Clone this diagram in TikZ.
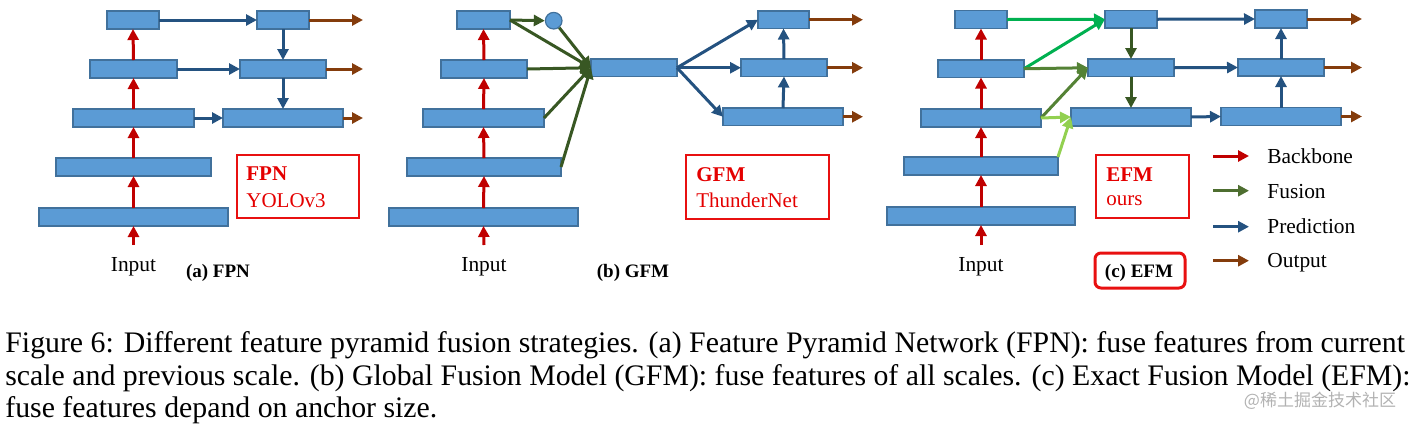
\documentclass[tikz,border=0pt]{standalone}
\usepackage{fontspec}
\setmainfont{Liberation Serif}
\newfontfamily\cjk{Noto Sans CJK SC}
\usetikzlibrary{arrows.meta}
\definecolor{boxfill}{RGB}{91,155,213}
\definecolor{boxline}{RGB}{65,113,156}
\definecolor{cbb}{RGB}{192,0,0}
\definecolor{cpred}{RGB}{36,82,128}
\definecolor{cout}{RGB}{132,60,12}
\definecolor{cfus}{RGB}{56,87,35}
\definecolor{cfusleg}{RGB}{78,110,48}
\definecolor{cmid}{RGB}{84,130,53}
\definecolor{cbright}{RGB}{0,176,80}
\definecolor{clight}{RGB}{146,208,80}
\definecolor{cred}{RGB}{232,16,16}
\definecolor{ctxt}{RGB}{228,0,0}
\newcommand\featbox[5]{\node[featb, minimum width={(#4-#2)*0.5pt}, minimum height={(#5-#3)*0.5pt}] (#1) at ({(#2+#4)/2},{(#3+#5)/2}) {};}
\newcommand\redframe[5]{\node[redb, minimum width={(#4-#2)*0.5pt}, minimum height={(#5-#3)*0.5pt}] (#1) at ({(#2+#4)/2},{(#3+#5)/2}) {};}
\begin{document}
\begin{tikzpicture}[x=0.5pt,y=-0.5pt,
  featb/.style={rectangle, draw=boxline, fill=boxfill, line width=0.6pt, inner sep=0pt, outer sep=0pt},
  redb/.style={rectangle, draw=cred, line width=1.3pt, inner sep=0pt, outer sep=0pt},
  arr/.style={line width=1.5pt, -{Triangle[length=5.5pt,width=5.5pt]}},
  bbarr/.style={arr, draw=cbb, fill=cbb},
  predarr/.style={arr, draw=cpred, fill=cpred},
  outarr/.style={arr, draw=cout, fill=cout},
  fusarr/.style={arr, draw=cfus, fill=cfus},
  midarr/.style={arr, draw=cmid, fill=cmid},
  brightarr/.style={arr, draw=cbright, fill=cbright},
  lightarr/.style={arr, draw=clight, fill=clight},
  lbl/.style={inner sep=0pt, font=\fontsize{10.7}{12}\selectfont},
  sublbl/.style={inner sep=0pt, font=\fontsize{9.5}{11}\selectfont\bfseries},
  boxttl/.style={inner sep=0pt, text=ctxt, font=\fontsize{10.5}{12}\selectfont\bfseries},
  boxsub/.style={inner sep=0pt, text=ctxt, font=\fontsize{10.5}{12}\selectfont},
  captxt/.style={inner sep=0pt, anchor=base west, font=\fontsize{14.9}{16.5}\selectfont}
]
\useasboundingbox (0,0) rectangle (1415,424);

% ---------------- (a) FPN ----------------
\featbox{a1}{107}{11}{159}{29}
\featbox{a2}{90}{60}{177}{78}
\featbox{a3}{73}{109}{194}{127}
\featbox{a4}{56}{158}{211}{176}
\featbox{a5}{39}{208}{228}{226}
\featbox{ap1}{257}{11}{309}{29}
\featbox{ap2}{240}{60}{326}{78}
\featbox{ap3}{223}{109}{343}{127}
\coordinate (ain) at (133.5,245);
\coordinate (aout) at (363,0);
\draw[bbarr] (ain) -- (a5.south);
\draw[bbarr] (a5.north) -- (a4.south);
\draw[bbarr] (a4.north) -- (a3.south);
\draw[bbarr] (a3.north) -- (a2.south);
\draw[bbarr] (a2.north) -- (a1.south);
\draw[predarr] (a1.east) -- (ap1.west);
\draw[predarr] (a2.east) -- (ap2.west);
\draw[predarr] (a3.east) -- (ap3.west);
\draw[predarr] (ap1.south) -- (ap2.north);
\draw[predarr] (ap2.south) -- (ap3.north);
\draw[outarr] (ap1.east) -- (ap1.east -| aout);
\draw[outarr] (ap2.east) -- (ap2.east -| aout);
\draw[outarr] (ap3.east) -- (ap3.east -| aout);
\node[lbl, anchor=base] (ainput) at (133.5,271) {Input};
\node[sublbl, anchor=base] (asub) at (218,277) {(a) FPN};
\redframe{afr}{237}{155}{359}{218}
\node[boxttl, anchor=base west] (attl) at (246,180) {FPN};
\node[boxsub, anchor=base west] (asb) at (246,207) {YOLOv3};

% ---------------- (b) GFM ----------------
\featbox{b1}{457}{11}{510}{29}
\featbox{b2}{441}{60}{527}{78}
\featbox{b3}{423}{109}{544}{127}
\featbox{b4}{407}{158}{561}{176}
\featbox{b5}{389}{208}{578}{226}
\node[circle, draw=boxline, fill=boxfill, line width=0.6pt, inner sep=0pt, minimum size=8.3pt] (bc) at (553.7,20.7) {};
\featbox{g}{591}{59}{677}{76.5}
\featbox{q1}{758}{11}{809}{28.5}
\featbox{q2}{741}{59}{827}{76.5}
\featbox{q3}{723}{108}{843}{125.5}
\coordinate (bin) at (484,245);
\coordinate (bout) at (863,0);
\draw[bbarr] (bin) -- (b5.south);
\draw[bbarr] (b5.north) -- (b4.south);
\draw[bbarr] (b4.north) -- (b3.south);
\draw[bbarr] (b3.north) -- (b2.south);
\draw[bbarr] (b2.north) -- (b1.south);
\draw[fusarr] (b1.east) -- (bc.west);
\draw[fusarr] (b1.east) -- (g.west);
\draw[fusarr] (bc) -- (g.west);
\draw[fusarr] (b2.east) -- (g.west);
\draw[fusarr] (b3.east) -- (g.west);
\draw[fusarr] (b4.east) -- (g.west);
\draw[predarr] (g.east) -- (q1.west);
\draw[predarr] (g.east) -- (q2.west);
\draw[predarr] (g.east) -- (q3.west);
\draw[predarr] (q3.north) -- (q2.south);
\draw[predarr] (q2.north) -- (q1.south);
\draw[outarr] (q1.east) -- (q1.east -| bout);
\draw[outarr] (q2.east) -- (q2.east -| bout);
\draw[outarr] (q3.east) -- (q3.east -| bout);
\node[lbl, anchor=base] (binput) at (484,271) {Input};
\node[sublbl, anchor=base] (bsub) at (633,277) {(b) GFM};
\redframe{bfr}{686}{155}{829}{219}
\node[boxttl, anchor=base west] (bttl) at (696,181) {GFM};
\node[boxsub, anchor=base west] (bsb) at (696,207) {ThunderNet};

% ---------------- (c) EFM ----------------
\featbox{e1}{955}{10.5}{1007}{28.5}
\featbox{e2}{938}{60}{1024}{77.5}
\featbox{e3}{921}{109}{1041}{127}
\featbox{e4}{904}{157}{1058}{175}
\featbox{e5}{887}{207}{1075}{225}
\featbox{f1}{1105}{10.5}{1157}{28}
\featbox{f2}{1088}{59}{1174}{76.5}
\featbox{f3}{1071}{108}{1191}{126}
\featbox{r1}{1255}{10}{1307}{28}
\featbox{r2}{1238}{59}{1324}{76}
\featbox{r3}{1221}{107.5}{1341}{125.5}
\coordinate (cin) at (981,245);
\coordinate (cout2) at (1362,0);
\draw[bbarr] (cin) -- (e5.south);
\draw[bbarr] (e5.north) -- (e4.south);
\draw[bbarr] (e4.north) -- (e3.south);
\draw[bbarr] (e3.north) -- (e2.south);
\draw[bbarr] (e2.north) -- (e1.south);
\draw[brightarr] (e1.east) -- (f1.west);
\draw[brightarr] (e2.east) -- (f1.west);
\draw[midarr] (e2.east) -- (f2.west);
\draw[midarr] (e3.east) -- (f2.west);
\draw[lightarr] (e3.east) -- (f3.west);
\draw[lightarr] (e4.north east) -- (f3.west);
\draw[fusarr] (f1.south) -- (f2.north);
\draw[fusarr] (f2.south) -- (f3.north);
\draw[predarr] (f1.east) -- (r1.west);
\draw[predarr] (f2.east) -- (r2.west);
\draw[predarr] (f3.east) -- (r3.west);
\draw[predarr] (r3.north) -- (r2.south);
\draw[predarr] (r2.north) -- (r1.south);
\draw[outarr] (r1.east) -- (r1.east -| cout2);
\draw[outarr] (r2.east) -- (r2.east -| cout2);
\draw[outarr] (r3.east) -- (r3.east -| cout2);
\node[lbl, anchor=base] (cinput) at (981,271) {Input};
\redframe{cfr}{1096}{155}{1189}{218}
\node[boxttl, anchor=base west] (cttl) at (1106,181.5) {EFM};
\node[boxsub, anchor=base west] (csb) at (1106,205) {ours};
\node[rectangle, draw=cred, line width=1.5pt, rounded corners=3pt, inner sep=0pt, minimum width=45pt, minimum height=17.5pt] (csubfr) at (1140,270.5) {};
\node[sublbl, anchor=base] (csub) at (1139,277) {(c) EFM};

% ---------------- legend ----------------
\coordinate (l1a) at (1213,156); \coordinate (l1b) at (1249,156);
\coordinate (l2a) at (1213,190.7); \coordinate (l2b) at (1249,190.7);
\coordinate (l3a) at (1213,226.7); \coordinate (l3b) at (1249,226.7);
\coordinate (l4a) at (1213,260.7); \coordinate (l4b) at (1249,260.7);
\draw[bbarr] (l1a) -- (l1b);
\draw[arr, draw=cfusleg, fill=cfusleg] (l2a) -- (l2b);
\draw[predarr] (l3a) -- (l3b);
\draw[outarr] (l4a) -- (l4b);
\node[lbl, anchor=base west] (lt1) at (1267,163) {Backbone};
\node[lbl, anchor=base west] (lt2) at (1267,198.3) {Fusion};
\node[lbl, anchor=base west] (lt3) at (1267,233.3) {Prediction};
\node[lbl, anchor=base west] (lt4) at (1267,267.7) {Output};

% ---------------- caption ----------------
\node[captxt] (cap1) at (5,352) {Figure 6: Different feature pyramid fusion strategies. (a) Feature Pyramid Network (FPN): fuse features from current};
\node[captxt] (cap2) at (5,385) {scale and previous scale. (b) Global Fusion Model (GFM): fuse features of all scales. (c) Exact Fusion Model (EFM):};
\node[captxt] (cap3) at (5,417) {fuse features depand on anchor size.};
\node[inner sep=0pt, anchor=center, text=black!30, font=\cjk\fontsize{8.5}{10}\selectfont] (wm) at (1320,401) {@稀土掘金技术社区};
\end{tikzpicture}
\end{document}
